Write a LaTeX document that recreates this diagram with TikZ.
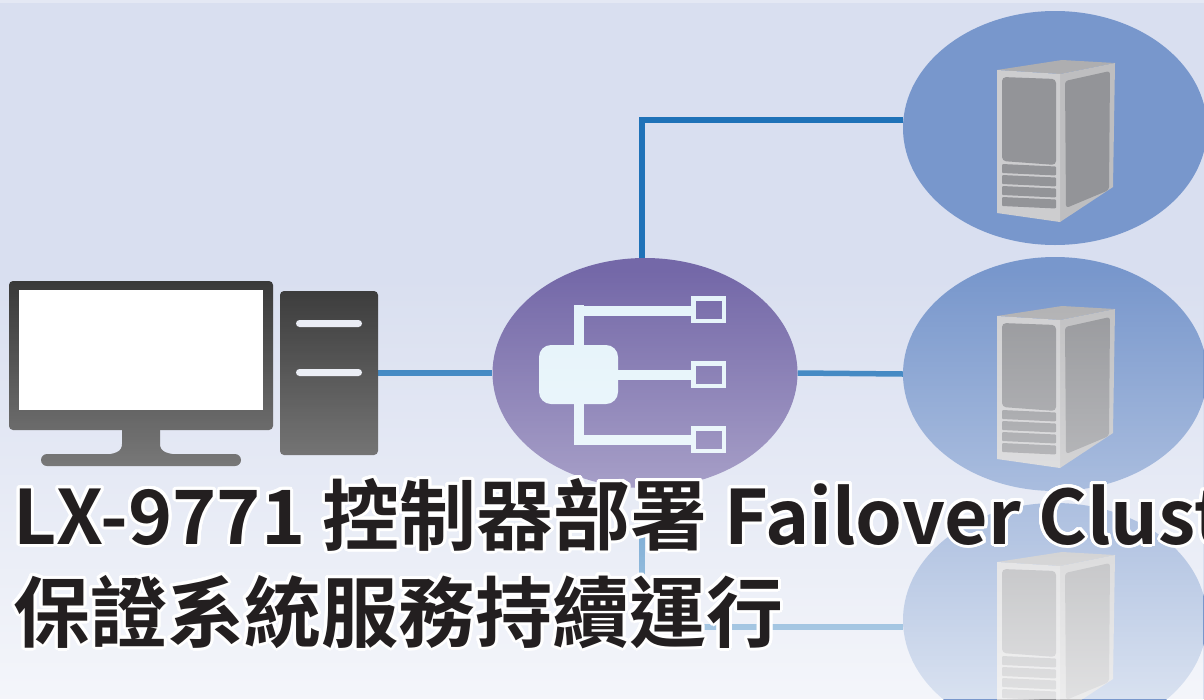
\documentclass[tikz,border=0pt]{standalone}
\usepackage{fontspec}
\newfontfamily\titlefont{Noto Sans CJK TC Bold}
\usepackage{contour}
\contourlength{3pt}
\contournumber{32}
\usetikzlibrary{shapes.geometric,fadings}

\definecolor{bgblue}{HTML}{D9DFF0}
\definecolor{topstrip}{HTML}{E4E8F4}
\definecolor{linkblue}{HTML}{1F72B8}
\definecolor{pcdark}{HTML}{363636}
\definecolor{slotlight}{HTML}{E8EBF3}
\definecolor{hubpurple}{HTML}{7468A8}
\definecolor{iconlight}{HTML}{E4F3FA}
\definecolor{srvblue}{HTML}{7897CC}
\definecolor{srvtop}{HTML}{AEAEB0}
\definecolor{srvside}{HTML}{BEBEC0}
\definecolor{srvfront}{HTML}{CDCDCF}
\definecolor{srvpanel}{HTML}{939498}
\definecolor{titleink}{HTML}{231F20}

% white haze that grows towards the bottom edge
\tikzfading[name=lowfade, top color=transparent!100, bottom color=transparent!28]

\newcommand{\latinsize}{\fontsize{75}{80}\selectfont}

\pgfdeclarelayer{back}
\pgfdeclarelayer{links}
\pgfsetlayers{back,links,main}

\tikzset{
  link/.style={draw=linkblue, line width=5.5pt},
  srvdisc/.style={ellipse, fill=srvblue, minimum width=304pt, minimum height=234pt, inner sep=0pt},
  hubdisc/.style={ellipse, fill=hubpurple, minimum width=305pt, minimum height=230pt, inner sep=0pt},
  pcpart/.style={rectangle, fill=pcdark, rounded corners=4pt, inner sep=0pt},
  branch/.style={draw=iconlight, line width=10pt},
  portbox/.style={draw=iconlight, line width=4.5pt},
  titletext/.style={font=\titlefont\fontsize{77}{80}\selectfont, text=titleink, inner sep=0pt, anchor=base west},
  servericon/.pic={
    % top, side and front faces of the tower case
    \fill[srvtop] (-58,-58) -- (7,-68) -- (60,-65) -- (5,-54) -- cycle;
    \fill[srvside] (5,-54) -- (60,-65) -- (58,59) -- (5,94) -- cycle;
    \fill[srvfront] (-58,-58) -- (5,-54) -- (5,94) -- (-58,85) -- cycle;
    \fill[srvpanel, rounded corners=4pt] (-53,-51) -- (1,-49) -- (1,37) -- (-53,33) -- cycle;
    \fill[srvpanel, rounded corners=3pt] (10,-47) -- (55,-57) -- (54,62) -- (11,80) -- cycle;
    \foreach \i in {0,1,2,3}{
      \fill[srvpanel, rounded corners=1pt]
        (-53,36+11*\i) -- (1,38.5+11*\i) -- (1,47.5+11*\i) -- (-53,45+11*\i) -- cycle;
    }
  }
}

\begin{document}
\begin{tikzpicture}[x=1pt,y=-1pt]
\useasboundingbox (0,0) rectangle (1204,699);
\begin{pgfonlayer}{back}
  \fill[bgblue] (0,0) rectangle (1204,699);
  \fill[topstrip] (0,0) rectangle (1204,3);
\end{pgfonlayer}

% desktop computer
\node[pcpart, minimum width=264pt, minimum height=149pt] (monitor) at (141,355.5) {};
\fill[white] (19,290) rectangle (263,410);
\fill[pcdark] (122,429) -- (122,444) .. controls (122,452) and (115,454) .. (102,455)
  -- (182,455) .. controls (167,454) and (160,452) .. (160,444) -- (160,429) -- cycle;
\fill[pcdark, rounded corners=6pt] (41,454) rectangle (241,466);
\node[pcpart, minimum width=98pt, minimum height=164pt] (tower) at (329,373) {};
\fill[slotlight, rounded corners=3.5pt] (296,320) rectangle (362,327);
\fill[slotlight, rounded corners=3.5pt] (296,369) rectangle (362,376);

% cluster controller
\node[hubdisc] (hub) at (645,373) {};
\node[rectangle, fill=iconlight, rounded corners=12pt, minimum width=79pt, minimum height=59pt, inner sep=0pt] (core) at (578.5,374.5) {};
\draw[branch] (578.5,305) -- (578.5,444);
\draw[branch] (573.5,310.5) -- (693,310.5);
\draw[branch] (core.east) -- (693,374.5);
\draw[branch] (573.5,439.5) -- (693,439.5);
\draw[portbox] (693.25,298.25) rectangle (723.75,320.75);
\draw[portbox] (693.25,363.25) rectangle (723.75,385.75);
\draw[portbox] (693.25,428.25) rectangle (723.75,450.75);

% cluster nodes
\node[srvdisc] (srv1) at (1055,128) {};
\node[srvdisc] (srv2) at (1055,374) {};
\node[srvdisc] (srv3) at (1055,620) {};
\pic at (srv1.center) {servericon};
\pic at (srv2.center) {servericon};
\pic at (srv3.center) {servericon};

% network links
\begin{pgfonlayer}{links}
  \draw[link] (tower.east) -- (hub.west);
  \draw[link] ([xshift=-3pt]hub.north) |- ([yshift=8pt]srv1.west);
  \draw[link] (hub.east) -- (srv2.west);
  \draw[link] ([xshift=-3pt]hub.south) |- ([yshift=-7pt]srv3.west);
\end{pgfonlayer}

% haze over the lower part
\fill[white, path fading=lowfade] (0,270) rectangle (1204,699);

% title with a white halo
\begin{scope}
  \clip (0,0) rectangle (1204,699);
  \node[titletext] (title1) at (13,544)
    {\contour{white}{{\latinsize LX-9771 }控制器部署{\latinsize\ Failover Cluster}}};
  \node[titletext] (title2) at (13,641) {\contour{white}{保證系統服務持續運行}};
\end{scope}
\end{tikzpicture}
\end{document}
